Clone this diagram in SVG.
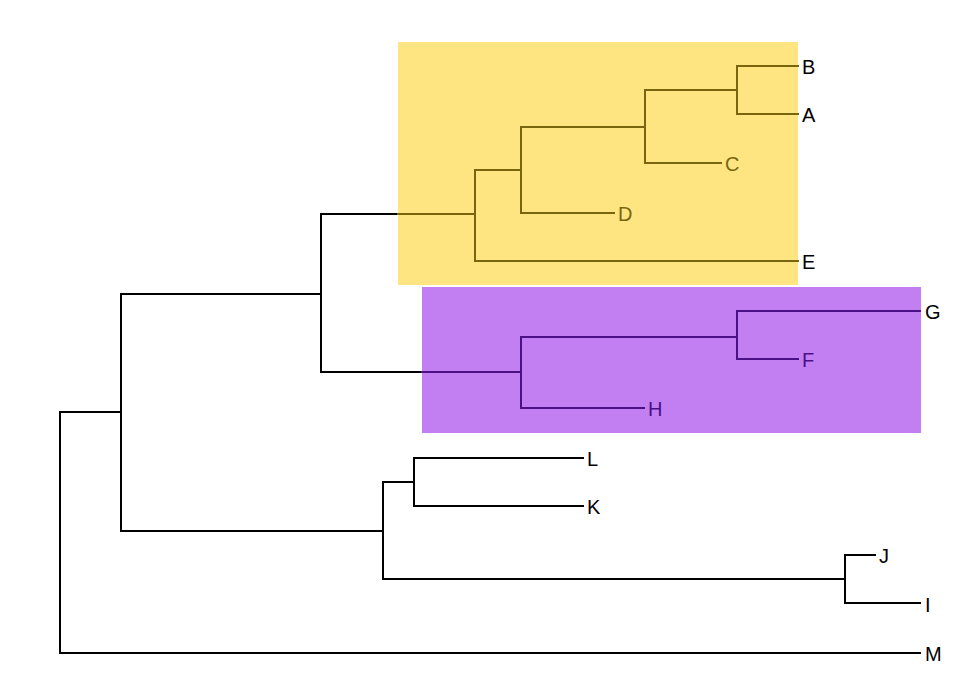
<svg xmlns="http://www.w3.org/2000/svg" width="980" height="700" viewBox="0 0 980 700">
<style>
.e{fill:none;stroke-width:2;stroke-linecap:square}
.k{stroke:#000}
.o{stroke:#7a650f}
.p{stroke:#4b0f86}
text{font-family:"Liberation Sans",Arial,sans-serif;font-size:20px}
.tk{fill:#000}
.to{fill:#7a650f}
.tp{fill:#4b0f86}
</style>
<rect id="clade-yellow" x="398" y="42" width="400" height="243" fill="#fee581"/>
<rect id="clade-purple" x="422" y="287" width="499" height="146" fill="#c27ff2"/>
<g id="connectors">
<path class="e k" d="M60,412V653H920M60,412H121M121,294V531M121,294H321M321,214V372M321,214H398M321,372H422M121,531H383M383,482V579M383,482H414M414,458V506M414,458H583M414,506H583M383,579H845M845,555V603M845,555H875M845,603H920"/>
<path class="e o" d="M398,214H475M475,170V261M475,261H798M475,170H521M521,127V213M521,213H614M521,127H645M645,90V163M645,163H721M645,90H737M737,66V114M737,66H798M737,114H798"/>
<path class="e p" d="M422,372H521M521,337V408M521,408H644M521,337H737M737,311V359M737,311H920M737,359H798"/>
</g>
<g id="B"><text class="tk" x="802" y="74">B</text></g>
<g id="A"><text class="tk" x="802" y="122">A</text></g>
<g id="C"><text class="to" x="725" y="171">C</text></g>
<g id="D"><text class="to" x="618" y="221">D</text></g>
<g id="E"><text class="tk" x="802" y="269">E</text></g>
<g id="G"><text class="tk" x="925" y="319">G</text></g>
<g id="F"><text class="tp" x="802" y="367">F</text></g>
<g id="H"><text class="tp" x="648" y="416">H</text></g>
<g id="L"><text class="tk" x="587" y="466">L</text></g>
<g id="K"><text class="tk" x="587" y="514">K</text></g>
<g id="J"><text class="tk" x="879" y="563">J</text></g>
<g id="I"><text class="tk" x="925" y="612">I</text></g>
<g id="M"><text class="tk" x="925" y="661">M</text></g>
</svg>
